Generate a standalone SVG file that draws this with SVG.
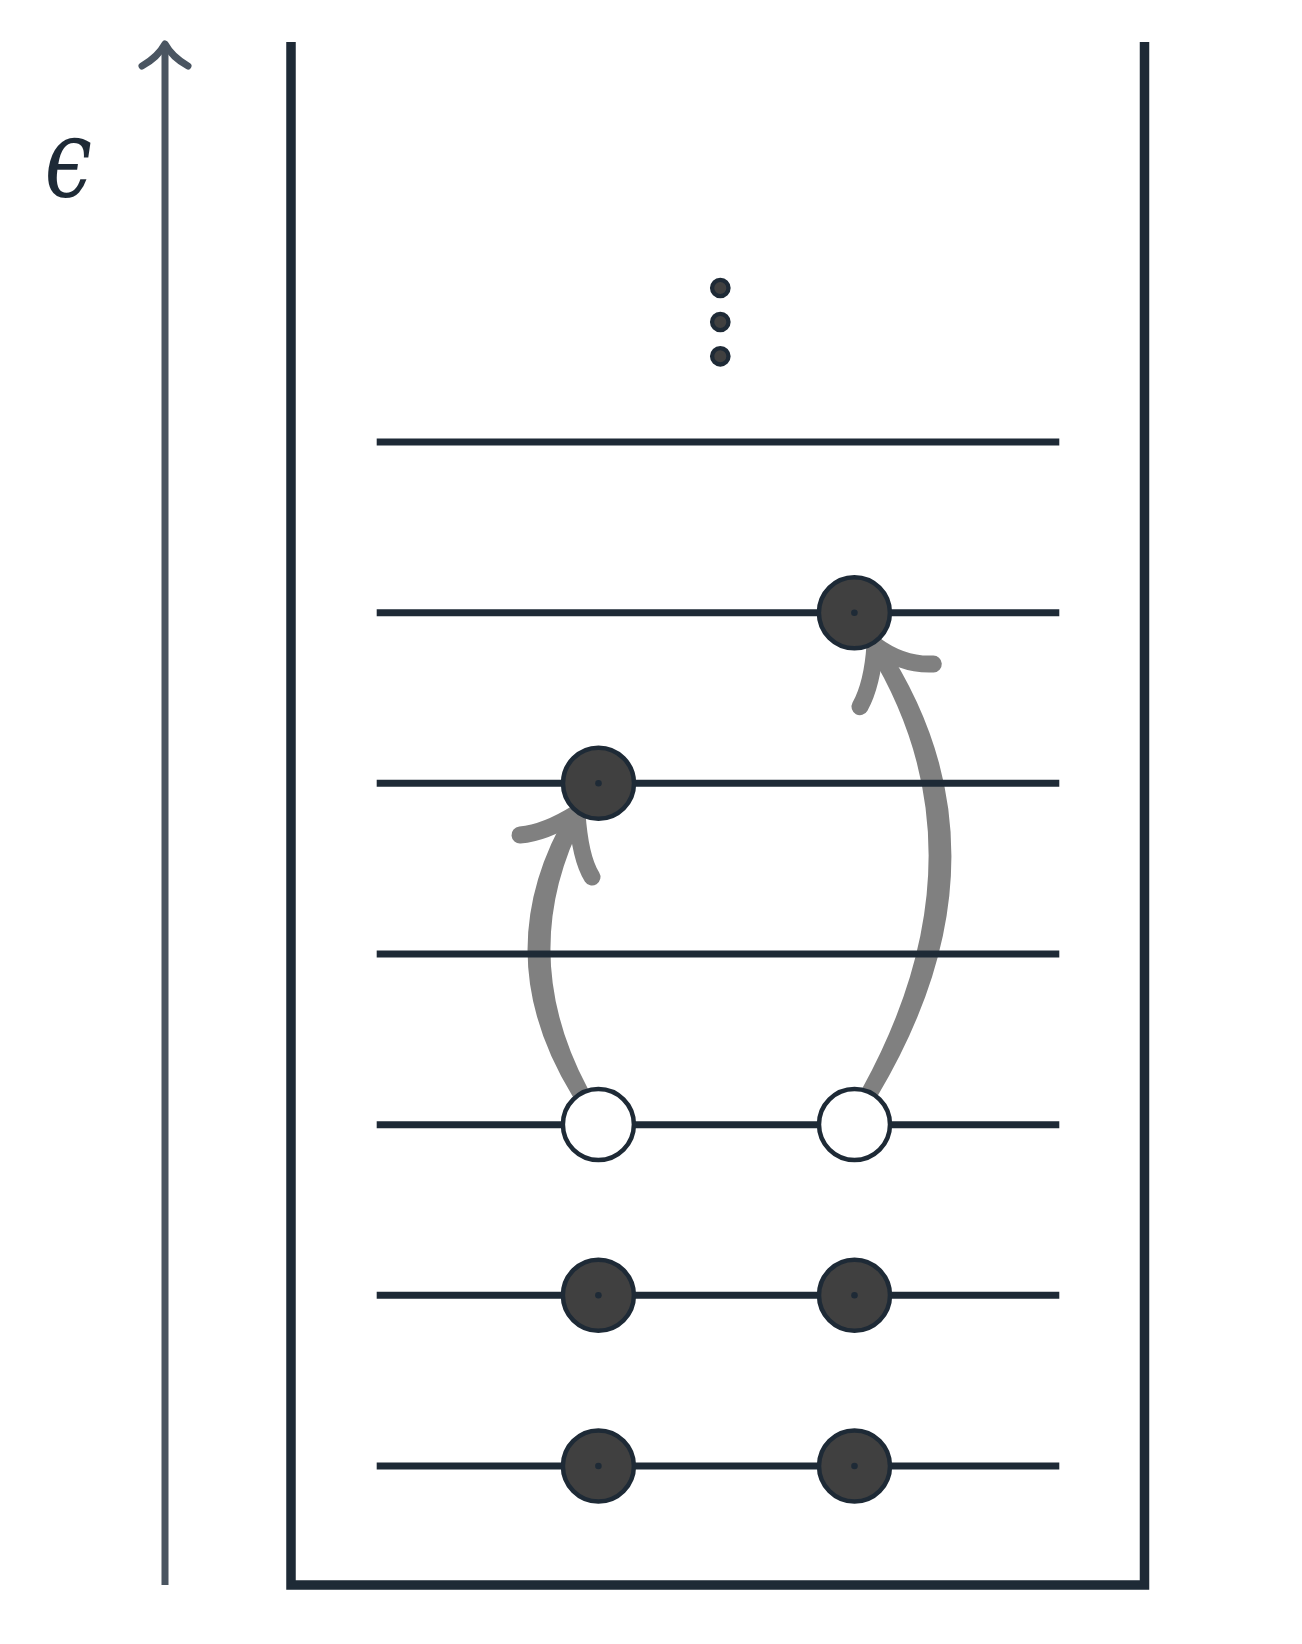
<svg xmlns="http://www.w3.org/2000/svg" width="1302" height="1644" viewBox="0 0 1302 1644">
<style>
.wall{stroke:#1e2a36;stroke-width:9.5;fill:none;stroke-linecap:butt;stroke-linejoin:miter}
.level{stroke:#1e2a36;stroke-width:7;fill:none}
.axis{stroke:#4a5561;stroke-width:7;fill:none;stroke-linecap:round;stroke-linejoin:round}
.full{fill:#404040;stroke:#1e2a36;stroke-width:4.5}
.hole{fill:#ffffff;stroke:#1e2a36;stroke-width:4.5}
.ctr{fill:#1e2a36}
.dot{fill:#404040;stroke:#1e2a36;stroke-width:4.3}
.body{fill:#808080}
.head{fill:none;stroke:#808080;stroke-width:17;stroke-linecap:round;stroke-linejoin:round}
.lbl{font-family:"DejaVu Serif","Liberation Serif",serif;font-style:italic;fill:#1e2a36}
</style>
<rect width="1302" height="1644" fill="#ffffff"/>
<g id="energy-axis">
<line class="axis" x1="165" y1="1585" x2="165" y2="46" style="stroke-linecap:butt"/>
<path class="axis" d="M142,66 Q158,57 165,44 Q172,57 188,66"/>
<text class="lbl" x="0" y="0" font-size="100" transform="translate(44.5,196.2) scale(0.85,1.11)">ϵ</text>
</g>
<g id="well">
<path class="wall" d="M291,42 V1585 H1144.5 V42"/>
</g>
<g id="connectors">
<g id="excite-left">
<path class="body" d="M587.4,1087.8 Q515,951.3 584.4,817.1 A8.5,8.5 0 0 0 569.6,808.9 Q484,951.7 572.6,1096.2 A8.5,8.5 0 0 0 587.4,1087.8 Z"/>
<path class="head" d="M520,835 Q545,833 577,813 Q580,858 592,877"/>
</g>
<g id="excite-right">
<path class="body" d="M877.4,1096.2 Q1023,851.7 882.2,640.4 A8.5,8.5 0 0 0 867.8,649.6 Q992,851.3 862.6,1087.8 A8.5,8.5 0 0 0 877.4,1096.2 Z"/>
<path class="head" d="M860,706.7 Q872.5,684 875,645 Q902.6,665.5 933.3,664"/>
</g>
</g>
<g id="levels">
<line class="level" x1="376.7" y1="442" x2="1059.3" y2="442"/>
<line class="level" x1="376.7" y1="612.7" x2="1059.3" y2="612.7"/>
<line class="level" x1="376.7" y1="783.3" x2="1059.3" y2="783.3"/>
<line class="level" x1="376.7" y1="954" x2="1059.3" y2="954"/>
<line class="level" x1="376.7" y1="1124.7" x2="1059.3" y2="1124.7"/>
<line class="level" x1="376.7" y1="1295.3" x2="1059.3" y2="1295.3"/>
<line class="level" x1="376.7" y1="1466" x2="1059.3" y2="1466"/>
</g>
<g id="ellipsis">
<circle class="dot" cx="720.3" cy="288" r="8.2"/>
<circle class="dot" cx="720.3" cy="322" r="8.2"/>
<circle class="dot" cx="720.3" cy="356.3" r="8.2"/>
</g>
<g id="e-5-right"><circle class="full" cx="854.4" cy="612.7" r="35.5"/><circle class="ctr" cx="854.4" cy="612.7" r="3.3"/></g>
<g id="e-4-left"><circle class="full" cx="598.5" cy="783.3" r="35.5"/><circle class="ctr" cx="598.5" cy="783.3" r="3.3"/></g>
<g id="h-2-left"><circle class="hole" cx="598.4" cy="1124.5" r="35.5"/></g>
<g id="h-2-right"><circle class="hole" cx="854.5" cy="1124.5" r="35.5"/></g>
<g id="e-1-left"><circle class="full" cx="598.4" cy="1295.3" r="35.5"/><circle class="ctr" cx="598.4" cy="1295.3" r="3.3"/></g>
<g id="e-1-right"><circle class="full" cx="854.5" cy="1295.3" r="35.5"/><circle class="ctr" cx="854.5" cy="1295.3" r="3.3"/></g>
<g id="e-0-left"><circle class="full" cx="598.4" cy="1466" r="35.5"/><circle class="ctr" cx="598.4" cy="1466" r="3.3"/></g>
<g id="e-0-right"><circle class="full" cx="854.5" cy="1466" r="35.5"/><circle class="ctr" cx="854.5" cy="1466" r="3.3"/></g>
</svg>
